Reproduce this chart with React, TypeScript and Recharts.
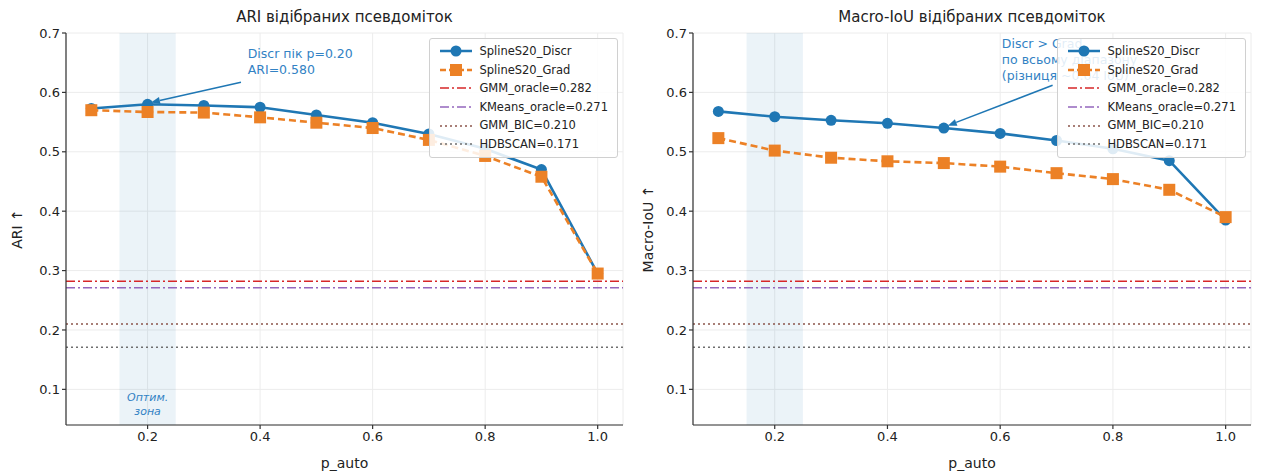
import React from 'react';
import {
  LineChart, Line, XAxis, YAxis, CartesianGrid, ReferenceLine, ReferenceArea,
} from 'recharts';

const pAuto = [0.1, 0.2, 0.3, 0.4, 0.5, 0.6, 0.7, 0.8, 0.9, 1.0];
const ariDiscr = [0.573, 0.580, 0.578, 0.575, 0.562, 0.549, 0.530, 0.505, 0.470, 0.295];
const ariGrad = [0.570, 0.567, 0.566, 0.558, 0.549, 0.540, 0.520, 0.493, 0.458, 0.295];
const iouDiscr = [0.568, 0.559, 0.553, 0.548, 0.540, 0.531, 0.519, 0.505, 0.485, 0.385];
const iouGrad = [0.523, 0.502, 0.490, 0.484, 0.481, 0.475, 0.464, 0.454, 0.436, 0.390];

const baselines = [
  { name: 'GMM_oracle', value: 0.282, color: '#d62728', dash: '9 3 2 3' },
  { name: 'KMeans_oracle', value: 0.271, color: '#9467bd', dash: '9 3 2 3' },
  { name: 'GMM_BIC', value: 0.210, color: '#8c564b', dash: '2 3' },
  { name: 'HDBSCAN', value: 0.171, color: '#6f6f6f', dash: '2 3' },
];

const xTicks = [0.2, 0.4, 0.6, 0.8, 1.0];
const yTicks = [0.1, 0.2, 0.3, 0.4, 0.5, 0.6, 0.7];

const BLUE = '#1f77b4';
const ORANGE = '#ec8126';
const ANN = '#3282c4';
const FONT = '"DejaVu Sans", sans-serif';

const Square = (props: any) => {
  const { cx, cy, index } = props;
  if (cx == null || cy == null) return <g key={index} />;
  return <rect key={index} x={cx - 6} y={cy - 6} width={12} height={12} fill={ORANGE} />;
};

const LegendBox = ({ right }: { right: number }) => (
  <div style={{
    position: 'absolute', top: 38, right, boxSizing: 'border-box',
    background: 'rgba(255,255,255,0.86)', border: '1px solid #d0d0d0', borderRadius: 3,
    padding: '3px 9px 3px 9px', fontFamily: FONT, fontSize: 11.5, color: '#222', lineHeight: '18.6px',
  }}>
    <div style={{ display: 'flex', alignItems: 'center' }}>
      <svg width={34} height={14} style={{ marginRight: 6 }}>
        <line x1={1} y1={7} x2={33} y2={7} stroke={BLUE} strokeWidth={2.5} />
        <circle cx={17} cy={7} r={5.5} fill={BLUE} />
      </svg>SplineS20_Discr
    </div>
    <div style={{ display: 'flex', alignItems: 'center' }}>
      <svg width={34} height={14} style={{ marginRight: 6 }}>
        <line x1={1} y1={7} x2={33} y2={7} stroke={ORANGE} strokeWidth={2.5} strokeDasharray="6 3" />
        <rect x={11} y={1} width={12} height={12} fill={ORANGE} />
      </svg>SplineS20_Grad
    </div>
    {baselines.map((b) => (
      <div key={b.name} style={{ display: 'flex', alignItems: 'center' }}>
        <svg width={34} height={14} style={{ marginRight: 6 }}>
          <line x1={1} y1={7} x2={33} y2={7} stroke={b.color} strokeWidth={1.5} strokeDasharray={b.dash} />
        </svg>{b.name}={b.value.toFixed(3)}
      </div>
    ))}
  </div>
);

const Arrow = (props: any) => {
  const { x1, y1, x2, y2 } = props;
  if ([x1, y1, x2, y2].some((v) => v == null || isNaN(v))) return <g />;
  const a = Math.atan2(y2 - y1, x2 - x1);
  const L = 9;
  const w = 3.5;
  const bx = x2 - L * Math.cos(a);
  const by = y2 - L * Math.sin(a);
  const px = -Math.sin(a) * w;
  const py = Math.cos(a) * w;
  return (
    <g>
      <line x1={x1} y1={y1} x2={bx} y2={by} stroke={BLUE} strokeWidth={1.5} />
      <polygon points={`${x2},${y2} ${bx + px},${by + py} ${bx - px},${by - py}`} fill={BLUE} />
    </g>
  );
};

type PanelProps = {
  title: string;
  yLabel: string;
  discr: number[];
  grad: number[];
  yAxisWidth: number;
  rightMargin: number;
  note: string[];
  noteAt: { x: number; y: number };
  arrowFrom: { x: number; y: number };
  arrowTo: { x: number; y: number };
  zoneLabel: boolean;
};

const Panel = (p: PanelProps) => {
  const data = pAuto.map((x, i) => ({ x, discr: p.discr[i], grad: p.grad[i] }));
  const plotLeft = p.yAxisWidth;
  const plotRight = 631 - p.rightMargin;
  const noteLabel = (lp: any) => {
    const vb = lp.viewBox || {};
    const cx = vb.x ?? 0;
    const cy = vb.y ?? 0;
    return (
      <text x={cx} y={cy} fill={ANN} fontSize={12.5} fontFamily={FONT}>
        {p.note.map((t, i) => (
          <tspan key={i} x={cx} dy={i === 0 ? 0 : 15.8}>{t}</tspan>
        ))}
      </text>
    );
  };
  const zoneText = (lp: any) => {
    const vb = lp.viewBox || {};
    const cx = (vb.x ?? 0) + (vb.width ?? 0) / 2;
    const by = (vb.y ?? 0) + (vb.height ?? 0);
    return (
      <text x={cx} y={by - 24} fill={ANN} fontSize={11} fontStyle="italic" fontFamily={FONT} textAnchor="middle">
        <tspan x={cx} dy={0}>Оптим.</tspan>
        <tspan x={cx} dy={14}>зона</tspan>
      </text>
    );
  };
  return (
    <div style={{ position: 'relative', width: 631, height: 475 }}>
      <div style={{
        position: 'absolute', top: 8, left: plotLeft, width: plotRight - plotLeft, textAlign: 'center',
        fontFamily: FONT, fontSize: 15, color: '#222',
      }}>{p.title}</div>
      <LineChart width={631} height={475} data={data}
        margin={{ top: 33, right: p.rightMargin, bottom: 0, left: 0 }}>
        <CartesianGrid stroke="#ececec" strokeWidth={1} />
        <ReferenceArea x1={0.15} x2={0.25} fill={BLUE} fillOpacity={0.09} stroke="none"
          label={p.zoneLabel ? zoneText : undefined} />
        <XAxis dataKey="x" type="number" domain={[0.055, 1.045]} allowDataOverflow ticks={xTicks}
          tickFormatter={(v: number) => v.toFixed(1)} height={50}
          tick={{ fontSize: 13, fill: '#222', fontFamily: FONT }} tickSize={4} tickMargin={3}
          stroke="#333" strokeWidth={1.2}
          label={{ value: 'p_auto', position: 'insideBottom', offset: 7, fontSize: 14, fill: '#222', fontFamily: FONT }} />
        <YAxis type="number" domain={[0.04, 0.7]} allowDataOverflow ticks={yTicks} width={p.yAxisWidth}
          tickFormatter={(v: number) => v.toFixed(1)}
          tick={{ fontSize: 13, fill: '#222', fontFamily: FONT }} tickSize={4}
          stroke="#333" strokeWidth={1.2}
          label={(lp: any) => {
            const vb = lp.viewBox || {};
            const cy = (vb.y ?? 0) + (vb.height ?? 0) / 2;
            return (
              <text x={17} y={cy} transform={`rotate(-90, 17, ${cy})`} textAnchor="middle"
                dominantBaseline="central" fontSize={14} fill="#222" fontFamily={FONT}>{p.yLabel}</text>
            );
          }} />
        {baselines.map((b) => (
          <ReferenceLine key={b.name} y={b.value} stroke={b.color} strokeWidth={1.5} strokeDasharray={b.dash} />
        ))}
        <ReferenceLine segment={[p.noteAt, p.noteAt]} stroke="none" label={noteLabel} />
        <ReferenceLine segment={[p.arrowFrom, p.arrowTo]} shape={Arrow} />
        <Line dataKey="discr" stroke={BLUE} strokeWidth={2.6} isAnimationActive={false}
          dot={{ r: 5.5, fill: BLUE, stroke: BLUE, strokeWidth: 0 }} activeDot={false} />
        <Line dataKey="grad" stroke={ORANGE} strokeWidth={2.6} strokeDasharray="7 4" isAnimationActive={false}
          dot={Square} activeDot={false} />
      </LineChart>
      <LegendBox right={p.rightMargin + 5} />
    </div>
  );
};

export default function App() {
  return (
    <div style={{ position: 'absolute', left: 0, top: 0, width: 1262, height: 475, display: 'flex', background: '#fff' }}>
      <Panel title="ARI відібраних псевдоміток" yLabel="ARI ↑" discr={ariDiscr} grad={ariGrad}
        yAxisWidth={66} rightMargin={8}
        note={['Discr пік p=0.20', 'ARI=0.580']}
        noteAt={{ x: 0.378, y: 0.658 }}
        arrowFrom={{ x: 0.366, y: 0.617 }} arrowTo={{ x: 0.206, y: 0.583 }}
        zoneLabel />
      <Panel title="Macro-IoU відібраних псевдоміток" yLabel="Macro-IoU ↑" discr={iouDiscr} grad={iouGrad}
        yAxisWidth={62} rightMargin={11}
        note={['Discr > Grad', 'по всьому діапазону', '(різниця ~0.04 IoU)']}
        noteAt={{ x: 0.603, y: 0.674 }}
        arrowFrom={{ x: 0.693, y: 0.612 }} arrowTo={{ x: 0.507, y: 0.544 }}
        zoneLabel={false} />
    </div>
  );
}
